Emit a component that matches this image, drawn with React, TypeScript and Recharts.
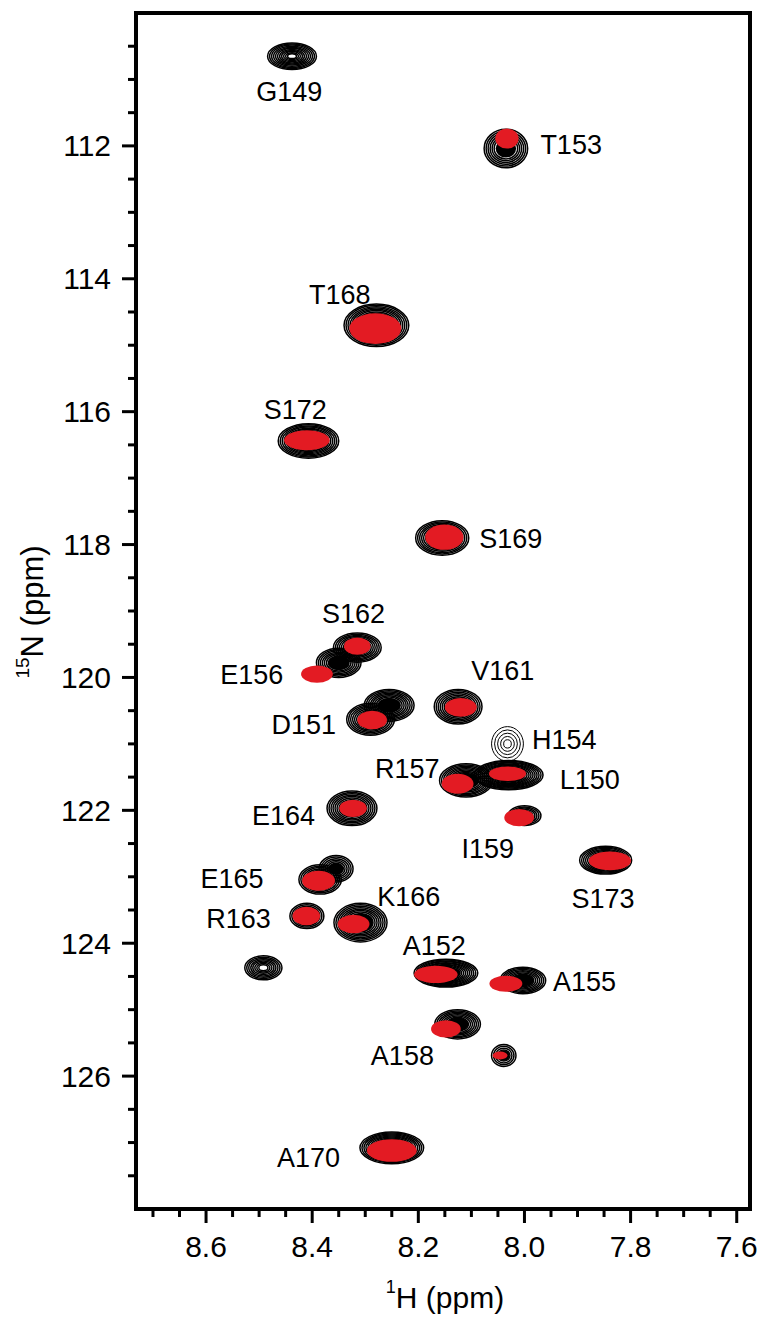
import { ReferenceArea, Scatter, ScatterChart, XAxis, YAxis } from "recharts";

const FONT = '"Liberation Sans", Arial, Helvetica, sans-serif';

// axis ranges (ppm)
const hRange = [7.575, 8.732];
const nRange = [110, 128];

const xTicks = [
  8.7, 8.65, 8.6, 8.55, 8.5, 8.45, 8.4, 8.35, 8.3, 8.25, 8.2, 8.15, 8.1, 8.05, 8.0, 7.95, 7.9, 7.85, 7.8, 7.75,
  7.7, 7.65, 7.6
];
const xMajor = [8.6, 8.4, 8.2, 8.0, 7.8, 7.6];
const yTicks = [
  110.5, 111, 111.5, 112, 112.5, 113, 113.5, 114, 114.5, 115, 115.5, 116, 116.5, 117, 117.5, 118, 118.5, 119,
  119.5, 120, 120.5, 121, 121.5, 122, 122.5, 123, 123.5, 124, 124.5, 125, 125.5, 126, 126.5, 127, 127.5
];
const yMajor = [112, 114, 116, 118, 120, 122, 124, 126];

// reference spectrum (black contours): centre shifts and half linewidths, ppm
const refPeaks = [
  { h: 8.035, n: 112.04, lwH: 0.041, lwN: 0.29 },
  { h: 8.279, n: 114.7, lwH: 0.061, lwN: 0.32 },
  { h: 8.407, n: 116.44, lwH: 0.057, lwN: 0.26 },
  { h: 8.155, n: 117.9, lwH: 0.05, lwN: 0.26 },
  { h: 8.315, n: 119.55, lwH: 0.045, lwN: 0.22 },
  { h: 8.35, n: 119.78, lwH: 0.042, lwN: 0.22 },
  { h: 8.29, n: 120.63, lwH: 0.045, lwN: 0.24 },
  { h: 8.255, n: 120.42, lwH: 0.047, lwN: 0.24 },
  { h: 8.125, n: 120.44, lwH: 0.045, lwN: 0.26 },
  { h: 8.11, n: 121.55, lwH: 0.05, lwN: 0.25 },
  { h: 8.03, n: 121.47, lwH: 0.065, lwN: 0.22 },
  { h: 8.325, n: 121.97, lwH: 0.047, lwN: 0.26 },
  { h: 8.0, n: 122.08, lwH: 0.031, lwN: 0.15 },
  { h: 7.847, n: 122.75, lwH: 0.049, lwN: 0.21 },
  { h: 8.385, n: 123.04, lwH: 0.04, lwN: 0.22 },
  { h: 8.355, n: 122.88, lwH: 0.032, lwN: 0.2 },
  { h: 8.41, n: 123.59, lwH: 0.032, lwN: 0.19 },
  { h: 8.309, n: 123.69, lwH: 0.05, lwN: 0.29 },
  { h: 8.148, n: 124.45, lwH: 0.06, lwN: 0.21 },
  { h: 8.003, n: 124.56, lwH: 0.043, lwN: 0.2 },
  { h: 8.126, n: 125.22, lwH: 0.043, lwN: 0.22 },
  { h: 8.039, n: 125.69, lwH: 0.023, lwN: 0.165 },
  { h: 8.25, n: 127.08, lwH: 0.06, lwN: 0.24 }
];

// reference peaks with no red counterpart (open centre)
const unpairedPeaks = [
  { h: 8.438, n: 110.65, lwH: 0.046, lwN: 0.2 },
  { h: 8.492, n: 124.37, lwH: 0.035, lwN: 0.18 }
];

// weak peaks drawn with open contours
const weakPeaks = [{ h: 8.032, n: 121.0, lwH: 0.03, lwN: 0.26 }];

// second spectrum (red)
const redPeaks = [
  { h: 8.033, n: 111.89, lwH: 0.022, lwN: 0.15 },
  { h: 8.281, n: 114.75, lwH: 0.049, lwN: 0.23 },
  { h: 8.41, n: 116.43, lwH: 0.043, lwN: 0.15 },
  { h: 8.151, n: 117.89, lwH: 0.036, lwN: 0.19 },
  { h: 8.315, n: 119.53, lwH: 0.025, lwN: 0.13 },
  { h: 8.391, n: 119.95, lwH: 0.03, lwN: 0.13 },
  { h: 8.287, n: 120.64, lwH: 0.028, lwN: 0.14 },
  { h: 8.12, n: 120.45, lwH: 0.03, lwN: 0.14 },
  { h: 8.126, n: 121.6, lwH: 0.03, lwN: 0.15 },
  { h: 8.032, n: 121.45, lwH: 0.035, lwN: 0.11 },
  { h: 8.323, n: 121.97, lwH: 0.026, lwN: 0.13 },
  { h: 8.01, n: 122.11, lwH: 0.028, lwN: 0.13 },
  { h: 7.839, n: 122.76, lwH: 0.04, lwN: 0.14 },
  { h: 8.388, n: 123.06, lwH: 0.031, lwN: 0.15 },
  { h: 8.411, n: 123.59, lwH: 0.026, lwN: 0.14 },
  { h: 8.322, n: 123.71, lwH: 0.03, lwN: 0.14 },
  { h: 8.167, n: 124.47, lwH: 0.041, lwN: 0.13 },
  { h: 8.035, n: 124.61, lwH: 0.031, lwN: 0.12 },
  { h: 8.148, n: 125.29, lwH: 0.028, lwN: 0.13 },
  { h: 8.046, n: 125.69, lwH: 0.014, lwN: 0.06 },
  { h: 8.25, n: 127.12, lwH: 0.047, lwN: 0.17 }
];

// residue assignments
const residueLabels = [
  { name: "G149", h: 8.443, n: 111.19 },
  { name: "T153", h: 7.912, n: 111.99 },
  { name: "T168", h: 8.348, n: 114.25 },
  { name: "S172", h: 8.432, n: 115.97 },
  { name: "S169", h: 8.026, n: 117.92 },
  { name: "S162", h: 8.322, n: 119.04 },
  { name: "E156", h: 8.514, n: 119.97 },
  { name: "V161", h: 8.041, n: 119.9 },
  { name: "D151", h: 8.416, n: 120.72 },
  { name: "H154", h: 7.925, n: 120.94 },
  { name: "R157", h: 8.221, n: 121.38 },
  { name: "L150", h: 7.877, n: 121.55 },
  { name: "E164", h: 8.454, n: 122.08 },
  { name: "I159", h: 8.069, n: 122.58 },
  { name: "S173", h: 7.852, n: 123.33 },
  { name: "E165", h: 8.551, n: 123.03 },
  { name: "R163", h: 8.539, n: 123.64 },
  { name: "K166", h: 8.218, n: 123.31 },
  { name: "A152", h: 8.17, n: 124.04 },
  { name: "A155", h: 7.887, n: 124.59 },
  { name: "A158", h: 8.23, n: 125.69 },
  { name: "A170", h: 8.407, n: 127.23 }
];

const isMajor = (list: number[], v: number) => list.some((m) => Math.abs(m - v) < 1e-6);

function rings(props: any, solidCore: boolean) {
  const { x, y, width, height } = props;
  const cx = x + width / 2;
  const cy = y + height / 2;
  const rx = width / 2;
  const ry = height / 2;
  const gap = 2.0;
  const stop = solidCore ? 0.45 : 0.18;
  const out = [];
  let i = 0;
  for (let s = 1; s > stop; s -= gap / rx) {
    out.push(<ellipse key={i++} cx={cx} cy={cy} rx={rx * s} ry={ry * s} fill="none" stroke="#000" strokeWidth={1.5} />);
  }
  if (solidCore) {
    out.push(<ellipse key="core" cx={cx} cy={cy} rx={rx * (stop + 0.02)} ry={ry * (stop + 0.02)} fill="#000" />);
  }
  return <g>{out}</g>;
}

function ContourBlob(props: any) {
  return rings(props, true);
}

function OpenCentreBlob(props: any) {
  return rings(props, false);
}

function WeakContour(props: any) {
  const { x, y, width, height } = props;
  const cx = x + width / 2;
  const cy = y + height / 2;
  const out = [];
  for (let i = 0; i < 5; i++) {
    const s = 1 - i * 0.19;
    out.push(
      <ellipse key={i} cx={cx} cy={cy} rx={(width / 2) * s} ry={(height / 2) * s} fill="none" stroke="#000" strokeWidth={1} />
    );
  }
  return <g>{out}</g>;
}

function RedBlob(props: any) {
  const { x, y, width, height } = props;
  return <ellipse cx={x + width / 2} cy={y + height / 2} rx={width / 2} ry={height / 2} fill="#e31b23" />;
}

function XTick(props: any) {
  const { x, y, payload } = props;
  const major = isMajor(xMajor, payload.value);
  return (
    <g>
      <line x1={x} x2={x} y1={y} y2={y + (major ? 14 : 8)} stroke="#000" strokeWidth={3} />
      {major ? (
        <text x={x} y={y + 37} textAnchor="middle" dominantBaseline="central" fontSize={30} fontFamily={FONT} fill="#000">
          {payload.value.toFixed(1)}
        </text>
      ) : null}
    </g>
  );
}

function YTick(props: any) {
  const { x, y, payload } = props;
  const major = isMajor(yMajor, payload.value);
  return (
    <g>
      <line x1={x - (major ? 14 : 8)} x2={x} y1={y} y2={y} stroke="#000" strokeWidth={3} />
      {major ? (
        <text x={x - 25} y={y} textAnchor="end" dominantBaseline="central" fontSize={30} fontFamily={FONT} fill="#000">
          {payload.value}
        </text>
      ) : null}
    </g>
  );
}

function ResidueLabel(props: any) {
  const { cx, cy, payload } = props;
  return (
    <text x={cx} y={cy} textAnchor="middle" dominantBaseline="central" fontSize={27} fontFamily={FONT} fill="#000">
      {payload.name}
    </text>
  );
}

function peakAreas(list: { h: number; n: number; lwH: number; lwN: number }[], key: string, shape: any) {
  return list.map((p, i) => (
    <ReferenceArea
      key={`${key}-${i}`}
      x1={p.h + p.lwH}
      x2={p.h - p.lwH}
      y1={p.n - p.lwN}
      y2={p.n + p.lwN}
      ifOverflow="visible"
      shape={shape}
    />
  ));
}

export default function App() {
  return (
    <div style={{ position: "absolute", left: 0, top: 0, width: 763, height: 1317, background: "#fff" }}>
      <ScatterChart width={763} height={1317} margin={{ top: 13, right: 13, bottom: 0, left: 0 }}>
        <XAxis
          type="number"
          dataKey="h"
          domain={hRange}
          reversed
          allowDataOverflow
          ticks={xTicks}
          interval={0}
          tickSize={0}
          tickMargin={0}
          axisLine={false}
          tick={<XTick />}
          height={108}
          label={(p: any) => {
            const vb = p.viewBox;
            const cx = vb.x + vb.width / 2 + 2;
            return (
              <text x={cx} y={1297} textAnchor="middle" dominantBaseline="central" fontSize={30} fontFamily={FONT} fill="#000">
                <tspan fontSize={18} dy={-10}>
                  1
                </tspan>
                <tspan dy={10}>H (ppm)</tspan>
              </text>
            );
          }}
        />
        <YAxis
          type="number"
          dataKey="n"
          domain={nRange}
          reversed
          allowDataOverflow
          ticks={yTicks}
          interval={0}
          tickSize={0}
          tickMargin={0}
          axisLine={false}
          tick={<YTick />}
          width={136}
          label={() => (
            <text
              x={32}
              y={612}
              transform="rotate(-90 32 612)"
              textAnchor="middle"
              dominantBaseline="central"
              fontSize={31}
              fontFamily={FONT}
              fill="#000"
            >
              <tspan fontSize={19} dy={-10}>
                15
              </tspan>
              <tspan dy={10}>N (ppm)</tspan>
            </text>
          )}
        />

        {peakAreas(unpairedPeaks, "unpaired", <OpenCentreBlob />)}
        {peakAreas(refPeaks, "ref", <ContourBlob />)}
        {peakAreas(weakPeaks, "weak", <WeakContour />)}
        {peakAreas(redPeaks, "red", <RedBlob />)}

        <Scatter data={residueLabels} shape={<ResidueLabel />} isAnimationActive={false} />

        <ReferenceArea
          x1={hRange[1]}
          x2={hRange[0]}
          y1={nRange[0]}
          y2={nRange[1]}
          fill="none"
          fillOpacity={0}
          stroke="#000"
          strokeWidth={4}
          ifOverflow="visible"
        />
      </ScatterChart>
    </div>
  );
}
